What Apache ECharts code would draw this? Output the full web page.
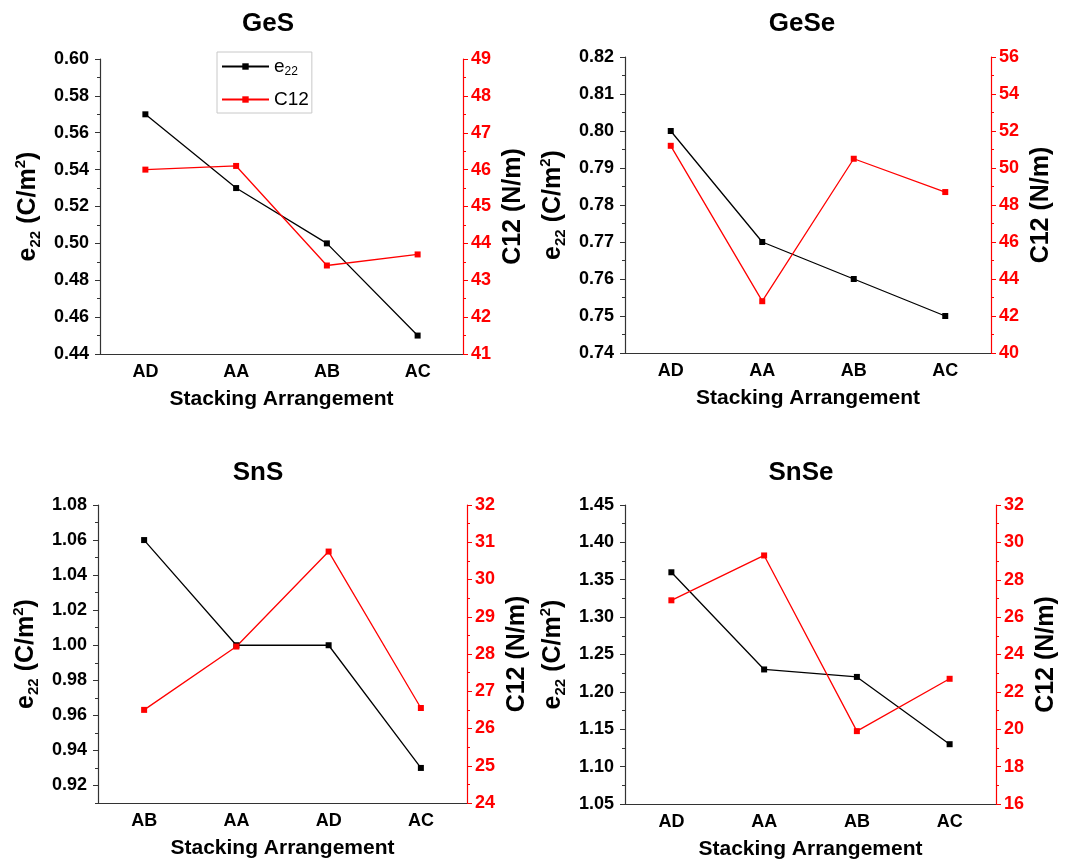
<!DOCTYPE html>
<html><head><meta charset="utf-8">
<script src="https://cdn.jsdelivr.net/npm/echarts@6/dist/echarts.min.js"></script>
<style>html,body{margin:0;padding:0;background:#fff}#c{width:1072px;height:861px}</style>
</head><body><div id="c"></div>
<script>
// ---- data ----
const gesCats = ['AD','AA','AB','AC'];
const gesE22 = [0.57,0.53,0.50,0.45];
const gesC12 = [46.0,46.1,43.4,43.7];
const geseCats = ['AD','AA','AB','AC'];
const geseE22 = [0.80,0.77,0.76,0.75];
const geseC12 = [51.2,42.8,50.5,48.7];
const snsCats = ['AB','AA','AD','AC'];
const snsE22 = [1.06,1.00,1.00,0.93];
const snsC12 = [26.5,28.2,30.75,26.55];
const snseCats = ['AD','AA','AB','AC'];
const snseE22 = [1.36,1.23,1.22,1.13];
const snseC12 = [26.9,29.3,19.9,22.7];

// axis ranges: [min, max, label step, minor step]
const gesE22Axis = [0.44,0.60,0.02,0.01];
const gesC12Axis = [41,49,1,0.5];
const geseE22Axis = [0.74,0.82,0.01,0.005];
const geseC12Axis = [40,56,2,1];
const snsE22Axis = [0.91,1.08,0.02,0.01];
const snsE22Ticks = [0.92,0.94,0.96,0.98,1.00,1.02,1.04,1.06,1.08];
const snsC12Axis = [24,32,1,0.5];
const snseE22Axis = [1.05,1.45,0.05,0.025];
const snseC12Axis = [16,32,2,1];

const titles = ['GeS','GeSe','SnS','SnSe'];
const xName = 'Stacking Arrangement';
const e22Name = 'e{sub|22} {p|(C/m}{sup|2}{p|)}';
const c12Name = 'C12 (N/m)';

// ---- layout ----
const FONT = '"Liberation Sans", Arial, sans-serif';
const RED = '#ff0000';
const AXC = '#333';
const panels = [
  {cats: gesCats, e22: gesE22, c12: gesC12, L: gesE22Axis, R: gesC12Axis, Lticks: null,
   grid: {left:100, top:59, width:363, height:295}, title: [268, 11]},
  {cats: geseCats, e22: geseE22, c12: geseC12, L: geseE22Axis, R: geseC12Axis, Lticks: null,
   grid: {left:625, top:57, width:366, height:296}, title: [802, 11]},
  {cats: snsCats, e22: snsE22, c12: snsC12, L: snsE22Axis, R: snsC12Axis, Lticks: snsE22Ticks,
   grid: {left:98, top:505, width:369, height:298}, title: [258, 460]},
  {cats: snseCats, e22: snseE22, c12: snseC12, L: snseE22Axis, R: snseC12Axis, Lticks: null,
   grid: {left:625, top:505, width:371, height:299}, title: [801, 460]}
];

const grid = [], xAxis = [], yAxis = [], series = [], title = [];
const lblStyle = {fontFamily: FONT, fontWeight: 'bold', fontSize: 18};
const richName = {
  sub: {fontFamily: FONT, fontWeight: 'bold', fontSize: 15, verticalAlign: 'bottom', lineHeight: 30},
  sup: {fontFamily: FONT, fontWeight: 'bold', fontSize: 15, verticalAlign: 'top', lineHeight: 30},
  p: {fontFamily: FONT, fontWeight: 'bold', fontSize: 25, lineHeight: 30}
};

panels.forEach((p, i) => {
  grid.push(Object.assign({containLabel: false}, p.grid));
  title.push({text: titles[i], left: p.title[0], top: p.title[1], textAlign: 'center', padding: 0,
    textStyle: {fontFamily: FONT, fontWeight: 'bold', fontSize: 26, color: '#000'}});
  // main x axis
  xAxis.push({type: 'category', gridIndex: i, data: p.cats, boundaryGap: true,
    axisLine: {lineStyle: {color: AXC, width: 1.2}},
    axisTick: {alignWithLabel: true, length: 5, lineStyle: {color: AXC}},
    axisLabel: Object.assign({color: '#000', margin: 9}, lblStyle),
    name: xName, nameLocation: 'middle', nameGap: 35,
    nameTextStyle: {fontFamily: FONT, fontWeight: 'bold', fontSize: 21, color: '#000'}});
  // minor x ticks at boundaries
  xAxis.push({type: 'category', gridIndex: i, data: p.cats, boundaryGap: true,
    axisLine: {show: false}, axisLabel: {show: false},
    axisTick: {length: 3, lineStyle: {color: AXC}}});
  const L = p.L, R = p.R;
  const left = {type: 'value', gridIndex: i, position: 'left', min: L[0], max: L[1],
    splitLine: {show: false},
    axisLine: {show: true, lineStyle: {color: AXC, width: 1.2}},
    axisTick: {show: true, length: 5, lineStyle: {color: AXC}},
    axisLabel: Object.assign({color: '#000', margin: 11, formatter: v => v.toFixed(2)}, lblStyle),
    name: e22Name, nameLocation: 'middle', nameGap: 57,
    nameTextStyle: {fontFamily: FONT, fontWeight: 'bold', fontSize: 25, color: '#000', rich: richName}};
  if (p.Lticks) {
    left.interval = L[3];
    left.axisTick.customValues = p.Lticks;
    left.axisLabel.customValues = p.Lticks;
  } else {
    left.interval = L[2];
  }
  yAxis.push(left);
  yAxis.push({type: 'value', gridIndex: i, position: 'right', min: R[0], max: R[1], interval: R[2],
    splitLine: {show: false},
    axisLine: {show: true, lineStyle: {color: RED, width: 1.2}},
    axisTick: {show: true, length: 5, lineStyle: {color: RED}},
    axisLabel: Object.assign({color: RED, margin: 8, formatter: v => String(Math.round(v))}, lblStyle),
    name: c12Name, nameLocation: 'middle', nameGap: 38,
    nameTextStyle: {fontFamily: FONT, fontWeight: 'bold', fontSize: 25, color: '#000'}});
  // minor tick helpers
  yAxis.push({type: 'value', gridIndex: i, position: 'left', min: L[0], max: L[1], interval: L[3],
    splitLine: {show: false}, axisLine: {show: false}, axisLabel: {show: false},
    axisTick: {show: true, length: 3, lineStyle: {color: AXC}}});
  yAxis.push({type: 'value', gridIndex: i, position: 'right', min: R[0], max: R[1], interval: R[3],
    splitLine: {show: false}, axisLine: {show: false}, axisLabel: {show: false},
    axisTick: {show: true, length: 3, lineStyle: {color: RED}}});

  series.push({name: 'e22', type: 'line', xAxisIndex: 2*i, yAxisIndex: 4*i, data: p.e22,
    symbol: 'rect', symbolSize: 6, lineStyle: {color: '#000', width: 1.3},
    itemStyle: {color: '#000'}, animation: false});
  series.push({name: 'C12', type: 'line', xAxisIndex: 2*i, yAxisIndex: 4*i+1, data: p.c12,
    symbol: 'rect', symbolSize: 6, lineStyle: {color: RED, width: 1.3},
    itemStyle: {color: RED}, animation: false});
});

const chart = echarts.init(document.getElementById('c'), null, {renderer: 'canvas'});
chart.setOption({
  backgroundColor: '#fff',
  animation: false,
  title, grid, xAxis, yAxis, series,
  legend: {data: ['e22','C12'], orient: 'vertical', left: 217, top: 52,
    padding: [3, 3, 2, 4], itemGap: 10, itemWidth: 47, itemHeight: 8,
    borderColor: '#c8c8c8', borderWidth: 1, backgroundColor: '#fff',
    formatter: n => n === 'e22' ? 'e{s|22}' : n,
    textStyle: {fontFamily: FONT, fontSize: 19, color: '#000', lineHeight: 23,
      rich: {s: {fontFamily: FONT, fontSize: 12, verticalAlign: 'bottom', lineHeight: 23}}}}
});
</script></body></html>
